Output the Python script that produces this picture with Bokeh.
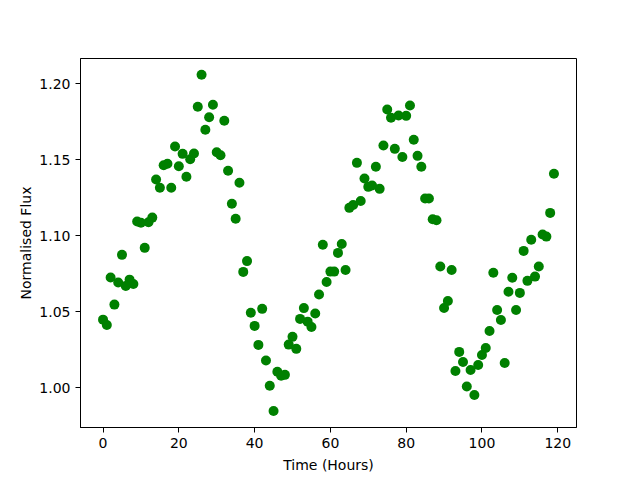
from bokeh.plotting import figure
from bokeh.models import Range1d, FixedTicker, NumeralTickFormatter
from bokeh.embed import file_html
from bokeh.resources import INLINE

hours = list(range(120))
flux = [
    1.0449, 1.0414, 1.0726, 1.0548, 1.0693, 1.0875, 1.0671, 1.0712, 1.0684, 1.1094,
    1.1086, 1.0921, 1.1089, 1.1120, 1.1370, 1.1316, 1.1464, 1.1474, 1.1316, 1.1587,
    1.1458, 1.1539, 1.1388, 1.1504, 1.1541, 1.1849, 1.2059, 1.1697, 1.1780, 1.1862,
    1.1550, 1.1530, 1.1757, 1.1428, 1.1211, 1.1112, 1.1349, 1.0763, 1.0834, 1.0495,
    1.0408, 1.0283, 1.0520, 1.0180, 1.0015, 0.9849, 1.0107, 1.0081, 1.0086, 1.0285,
    1.0336, 1.0257, 1.0454, 1.0525, 1.0436, 1.0401, 1.0489, 1.0614, 1.0941, 1.0697,
    1.0765, 1.0765, 1.0888, 1.0946, 1.0776, 1.1184, 1.1203, 1.1480, 1.1229, 1.1377,
    1.1322, 1.1331, 1.1454, 1.1309, 1.1594, 1.1831, 1.1776, 1.1572, 1.1791, 1.1518,
    1.1789, 1.1857, 1.1632, 1.1526, 1.1454, 1.1245, 1.1245, 1.1109, 1.1103, 1.0798,
    1.0526, 1.0572, 1.0776, 1.0112, 1.0237, 1.0171, 1.0009, 1.0118, 0.9954, 1.0151,
    1.0217, 1.0263, 1.0375, 1.0757, 1.0513, 1.0447, 1.0164, 1.0632, 1.0724, 1.0513,
    1.0625, 1.0901, 1.0704, 1.0974, 1.0732, 1.0798, 1.1009, 1.0995, 1.1151, 1.1408,
]
x_ticks = [0, 20, 40, 60, 80, 100, 120]
y_ticks = [1.00, 1.05, 1.10, 1.15, 1.20]

FONT = "DejaVu Sans"

p = figure(width=640, height=480, output_backend="svg", toolbar_location=None,
           x_range=Range1d(-5.95, 124.95), y_range=Range1d(0.974, 1.2166),
           min_border_left=80, min_border_top=58, min_border_right=64, min_border_bottom=53)
p.frame_width = 496
p.frame_height = 369

p.scatter(hours, flux, size=10, fill_color="#008000", line_color="#008000", line_width=0)

p.grid.visible = False
p.outline_line_color = "black"
p.outline_line_width = 1
p.outline_line_alpha = 1.0

p.xaxis.ticker = FixedTicker(ticks=x_ticks)
p.yaxis.ticker = FixedTicker(ticks=y_ticks)
p.yaxis.formatter = NumeralTickFormatter(format="0.00")
p.xaxis.axis_label = "Time (Hours)"
p.yaxis.axis_label = "Normalised Flux"

for ax in (p.xaxis, p.yaxis):
    ax.axis_line_color = "black"
    ax.major_tick_line_color = "black"
    ax.major_tick_out = 5
    ax.major_tick_in = 0
    ax.minor_tick_line_color = None
    ax.major_label_text_font = FONT
    ax.major_label_text_font_size = "14px"
    ax.major_label_text_color = "black"
    ax.axis_label_text_font = FONT
    ax.axis_label_text_font_size = "14px"
    ax.axis_label_text_font_style = "normal"
    ax.axis_label_text_color = "black"

p.xaxis.major_label_standoff = 5
p.yaxis.major_label_standoff = 5
p.xaxis.axis_label_standoff = 6
p.yaxis.axis_label_standoff = 2

open("out.html", "w").write(file_html(p, INLINE))
